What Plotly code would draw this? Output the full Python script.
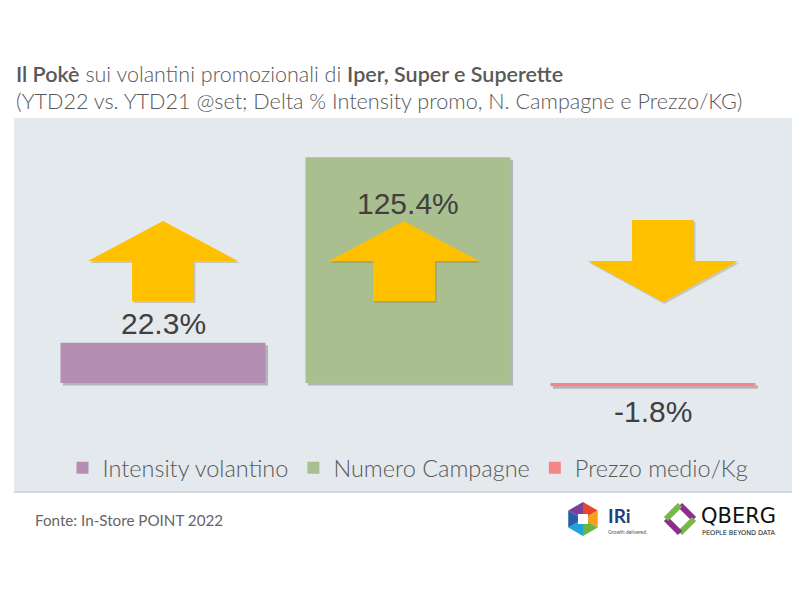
import math
import plotly.graph_objects as go

# ---- data ----
categories = ["Intensity volantino", "Numero Campagne", "Prezzo medio/Kg"]
values = [22.3, 125.4, -1.8]
value_labels = ["22.3%", "125.4%", "-1.8%"]
bar_colors = ["#B48FB3", "#A9BF8F", "#F4868A"]
directions = ["up", "up", "down"]

W, H = 800, 600
OFF = 8                # page body margin in the browser
BASE_PX = 383          # pixel row (screen) of the zero line
PX_PER_UNIT = 1.8
CAT_PX0 = 163          # pixel column (screen) of first category centre
CAT_STEP = 245
BAR_W = 0.837

def px(x):
    return (x - OFF) / W

def py(y):
    return 1 - (y - OFF) / H

fig = go.Figure()
for i, (c, v, col) in enumerate(zip(categories, values, bar_colors)):
    fig.add_trace(go.Bar(
        x=[c], y=[v], name=c, width=BAR_W,
        marker=dict(color=col, line=dict(width=0)),
        hoverinfo="skip",
    ))

shapes = []
# grey panel
shapes.append(dict(type="rect", xref="paper", yref="paper",
                   x0=px(14), x1=1.0, y0=py(492), y1=py(118),
                   fillcolor="#E4E9ED", line=dict(width=0), layer="below"))
shapes.append(dict(type="rect", xref="paper", yref="paper",
                   x0=px(14), x1=1.0, y0=py(493), y1=py(491),
                   fillcolor="#D4D8DC", line=dict(width=0), layer="below"))

# soft bar shadows (right/bottom), derived from bar data
for i, v in enumerate(values):
    dx = 2.5 / CAT_STEP
    dy = 2.5 / PX_PER_UNIT
    if v >= 0:
        y0, y1 = -dy, v - dy
    else:
        y0, y1 = v - dy, -dy
    shapes.append(dict(type="rect", xref="x", yref="y",
                       x0=i - BAR_W / 2 + dx, x1=i + BAR_W / 2 + dx,
                       y0=y0, y1=y1,
                       fillcolor="rgba(90,90,90,0.35)", line=dict(width=0),
                       layer="below"))

# arrows (decorations, in pixel geometry)
ARROW = "#FFC000"
def up_arrow(cx, top):
    return [(cx, top), (cx + 75, top + 40), (cx + 31, top + 40), (cx + 31, top + 80),
            (cx - 31, top + 80), (cx - 31, top + 40), (cx - 75, top + 40)]

def down_arrow(cx, top):
    return [(cx - 31, top), (cx + 31, top), (cx + 31, top + 41), (cx + 75, top + 41),
            (cx, top + 82), (cx - 75, top + 41), (cx - 31, top + 41)]

arrow_cx = [163, 404, 663]
arrow_top = [221, 221, 220]
for d, cx, tp in zip(directions, arrow_cx, arrow_top):
    pts = up_arrow(cx, tp) if d == "up" else down_arrow(cx, tp)
    sp = "M " + " L ".join(f"{px(x+1.5)},{py(y+2)}" for x, y in pts) + " Z"
    shapes.append(dict(type="path", xref="paper", yref="paper", path=sp,
                       fillcolor="rgba(120,100,40,0.25)", line=dict(width=0), layer="above"))
    p = "M " + " L ".join(f"{px(x)},{py(y)}" for x, y in pts) + " Z"
    shapes.append(dict(type="path", xref="paper", yref="paper", path=p,
                       fillcolor=ARROW, line=dict(width=0), layer="above"))

# IRi logo hexagon (approximation)
hx, hy, hr = 583, 519, 17
hex_cols = ["#E8452C", "#F6A01A", "#6CB33F", "#1FA3DC", "#2A5CAA", "#7B3F98"]
for k in range(6):
    a0 = math.radians(-90 + 60 * k)
    a1 = math.radians(-90 + 60 * (k + 1))
    p = (f"M {px(hx)},{py(hy)} L {px(hx + hr*math.cos(a0))},{py(hy + hr*math.sin(a0))} "
         f"L {px(hx + hr*math.cos(a1))},{py(hy + hr*math.sin(a1))} Z")
    shapes.append(dict(type="path", xref="paper", yref="paper", path=p,
                       fillcolor=hex_cols[k], line=dict(width=0), layer="above"))
shapes.append(dict(type="rect", xref="paper", yref="paper",
                   x0=px(578), x1=px(588), y0=py(524), y1=py(514),
                   fillcolor="white", line=dict(width=0), layer="above"))

# QBERG diamond (approximation)
qx, qy, qr = 680, 519, 14
segs = [((qx, qy - qr), (qx + qr, qy), "#8E2C8F"),
        ((qx + qr, qy), (qx, qy + qr), "#7AB648"),
        ((qx, qy + qr), (qx - qr, qy), "#8E2C8F"),
        ((qx - qr, qy), (qx, qy - qr), "#7AB648")]
for (x0, y0), (x1, y1), col in segs:
    shapes.append(dict(type="line", xref="paper", yref="paper",
                       x0=px(x0), y0=py(y0), x1=px(x1), y1=py(y1),
                       line=dict(color=col, width=6), layer="above"))

annotations = []
# value labels
label_offsets = [10.5, -25.4, -13.8]
for i, (v, t, off) in enumerate(zip(values, value_labels, label_offsets)):
    annotations.append(dict(x=i, y=v + off, xref="x", yref="y", text=t,
                            showarrow=False,
                            font=dict(family="Liberation Sans, Arial", size=30, color="#404040")))

# title
B = '<span style="font-weight:600">'
annotations.append(dict(x=px(14), y=py(74), xref="paper", yref="paper", xanchor="left",
                        yanchor="middle", showarrow=False,
                        text=f"{B}Il Pokè</span> sui volantini promozionali di {B}Iper, Super e Superette</span>",
                        font=dict(family="Lato", size=21.5, color="#595959", weight=300)))
annotations.append(dict(x=px(14), y=py(101), xref="paper", yref="paper", xanchor="left",
                        yanchor="middle", showarrow=False,
                        text="(YTD22 vs. YTD21 @set; Delta % Intensity promo, N. Campagne e Prezzo/KG)",
                        font=dict(family="Lato", size=21.6, color="#595959", weight=300)))
# footer
annotations.append(dict(x=px(33), y=py(520), xref="paper", yref="paper", xanchor="left",
                        yanchor="middle", showarrow=False,
                        text="Fonte: In-Store POINT 2022",
                        font=dict(family="Lato", size=15.2, color="#666666")))
# logos text
annotations.append(dict(x=px(606), y=py(515), xref="paper", yref="paper", xanchor="left",
                        yanchor="middle", showarrow=False, text="<b>IRi</b>",
                        font=dict(family="Lato", size=19, color="#1F3F7F")))
annotations.append(dict(x=px(606), y=py(532), xref="paper", yref="paper", xanchor="left",
                        yanchor="middle", showarrow=False, text="Growth delivered.",
                        font=dict(family="Lato", size=5, color="#555555")))
annotations.append(dict(x=px(699), y=py(516), xref="paper", yref="paper", xanchor="left",
                        yanchor="middle", showarrow=False, text="QBERG",
                        font=dict(family="DejaVu Sans", size=21, color="#111111")))
annotations.append(dict(x=px(700), y=py(533), xref="paper", yref="paper", xanchor="left",
                        yanchor="middle", showarrow=False, text="PEOPLE BEYOND DATA",
                        font=dict(family="DejaVu Sans", size=6.5, color="#111111")))

x_left = -(CAT_PX0 - OFF) / CAT_STEP
x_right = (W + OFF - CAT_PX0) / CAT_STEP
y_top = (BASE_PX - OFF) / PX_PER_UNIT
y_bottom = -(H + OFF - BASE_PX) / PX_PER_UNIT

fig.update_layout(
    width=W, height=H, autosize=False,
    margin=dict(l=0, r=0, t=0, b=0),
    paper_bgcolor="white", plot_bgcolor="rgba(0,0,0,0)",
    barmode="overlay",
    xaxis=dict(range=[x_left, x_right], visible=False, fixedrange=True),
    yaxis=dict(range=[y_bottom, y_top], visible=False, fixedrange=True),
    shapes=shapes, annotations=annotations,
    showlegend=True,
    legend=dict(orientation="h", x=px(408), xanchor="center", y=py(468), yanchor="middle",
                bgcolor="rgba(0,0,0,0)",
                font=dict(family="Lato", size=23.5, color="#595959", weight=300),
                itemwidth=30, traceorder="normal"),
)

fig.write_html("out.html")
